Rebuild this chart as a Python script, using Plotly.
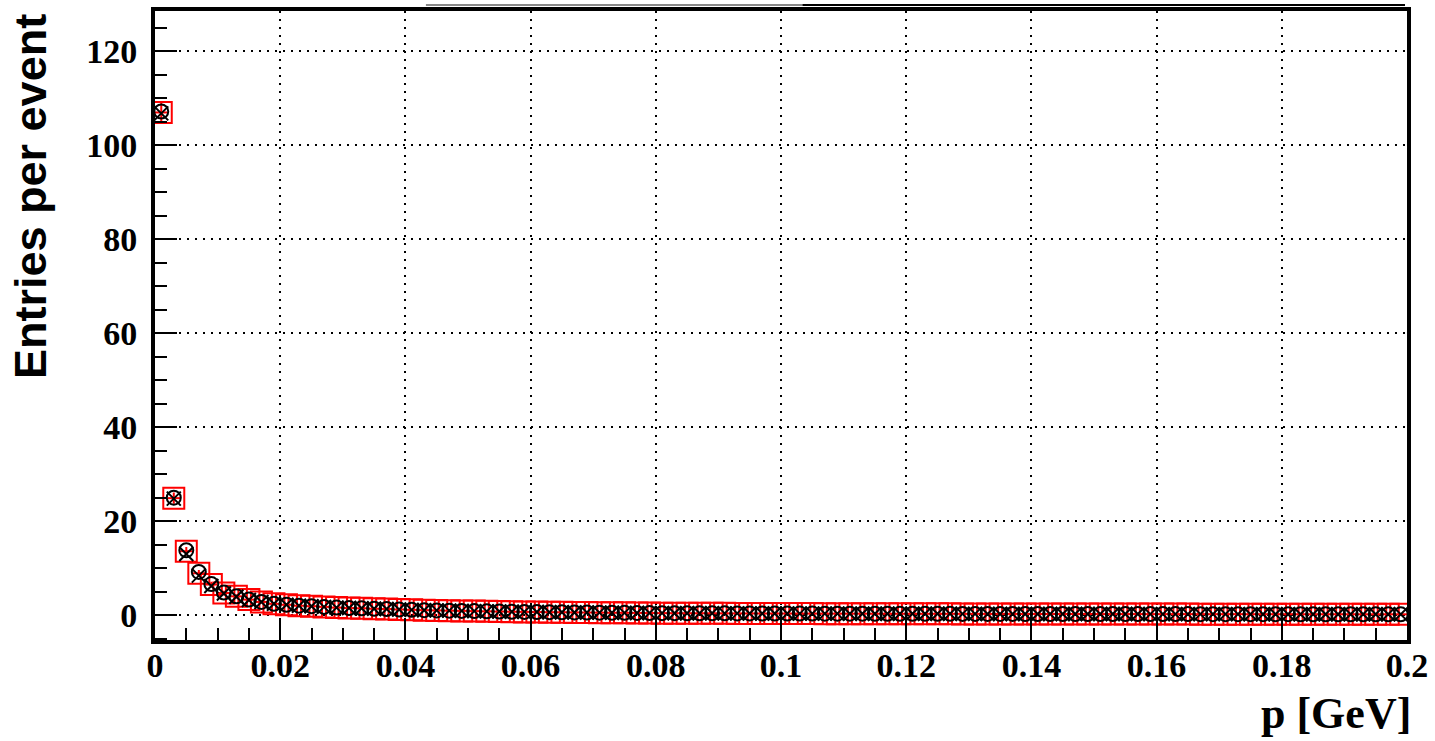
import plotly.graph_objects as go

# bin centres (bin width 0.002 GeV)
p_centers = [0.001 + 0.002 * i for i in range(100)]

# series
vals_square = [107, 24.9, 13.6, 8.9, 6.5, 4.7, 4.0, 3.3, 2.8, 2.4,
               2.2, 2.0, 1.9, 1.75, 1.6, 1.5, 1.45, 1.35, 1.3, 1.2,
               1.12, 1.05, 1.0, 0.95, 0.9, 0.85, 0.8, 0.76, 0.72, 0.68,
               0.65, 0.62, 0.6, 0.57, 0.55, 0.52, 0.5, 0.48, 0.46, 0.44,
               0.42, 0.41, 0.4, 0.39, 0.38, 0.37, 0.36, 0.35, 0.34, 0.34,
               0.33, 0.32, 0.32, 0.31, 0.31, 0.30, 0.30, 0.29, 0.29, 0.28,
               0.28, 0.27, 0.27, 0.27, 0.26, 0.26, 0.25, 0.25, 0.25, 0.24,
               0.24, 0.24, 0.23, 0.23, 0.23, 0.22, 0.22, 0.22, 0.22, 0.21,
               0.21, 0.21, 0.21, 0.20, 0.20, 0.20, 0.20, 0.19, 0.19, 0.19,
               0.19, 0.18, 0.18, 0.18, 0.18, 0.18, 0.17, 0.17, 0.17, 0.17]
err_square = [2.4, 1.2, 0.9, 0.7, 0.6, 0.5, 0.45, 0.4, 0.35, 0.3] + [0.1] * 90

vals_circle = [107.2, 25.0, 13.8, 9.2, 6.6, 4.8, 4.0, 3.3, 2.8, 2.4,
               2.2, 2.0, 1.9, 1.75, 1.6, 1.5, 1.45, 1.35, 1.3, 1.2,
               1.12, 1.05, 1.0, 0.95, 0.9, 0.85, 0.8, 0.76, 0.72, 0.68,
               0.65, 0.62, 0.6, 0.57, 0.55, 0.52, 0.5, 0.48, 0.46, 0.44,
               0.42, 0.41, 0.4, 0.39, 0.38, 0.37, 0.36, 0.35, 0.34, 0.34,
               0.33, 0.32, 0.32, 0.31, 0.31, 0.30, 0.30, 0.29, 0.29, 0.28,
               0.28, 0.27, 0.27, 0.27, 0.26, 0.26, 0.25, 0.25, 0.25, 0.24,
               0.24, 0.24, 0.23, 0.23, 0.23, 0.22, 0.22, 0.22, 0.22, 0.21,
               0.21, 0.21, 0.21, 0.20, 0.20, 0.20, 0.20, 0.19, 0.19, 0.19,
               0.19, 0.18, 0.18, 0.18, 0.18, 0.18, 0.17, 0.17, 0.17, 0.17]

vals_cross = [106.8, 24.8, 13.0, 8.4, 6.2, 4.6, 3.9, 3.2, 2.8, 2.4,
              2.2, 2.0, 1.9, 1.75, 1.6, 1.5, 1.45, 1.35, 1.3, 1.2,
              1.12, 1.05, 1.0, 0.95, 0.9, 0.85, 0.8, 0.76, 0.72, 0.68,
              0.65, 0.62, 0.6, 0.57, 0.55, 0.52, 0.5, 0.48, 0.46, 0.44,
              0.42, 0.41, 0.4, 0.39, 0.38, 0.37, 0.36, 0.35, 0.34, 0.34,
              0.33, 0.32, 0.32, 0.31, 0.31, 0.30, 0.30, 0.29, 0.29, 0.28,
              0.28, 0.27, 0.27, 0.27, 0.26, 0.26, 0.25, 0.25, 0.25, 0.24,
              0.24, 0.24, 0.23, 0.23, 0.23, 0.22, 0.22, 0.22, 0.22, 0.21,
              0.21, 0.21, 0.21, 0.20, 0.20, 0.20, 0.20, 0.19, 0.19, 0.19,
              0.19, 0.18, 0.18, 0.18, 0.18, 0.18, 0.17, 0.17, 0.17, 0.17]

x_tickvals = [0, 0.02, 0.04, 0.06, 0.08, 0.1, 0.12, 0.14, 0.16, 0.18, 0.2]
x_ticktext = ["0", "0.02", "0.04", "0.06", "0.08", "0.1", "0.12", "0.14", "0.16", "0.18", "0.2"]
y_tickvals = [0, 20, 40, 60, 80, 100, 120]
y_ticktext = ["0", "20", "40", "60", "80", "100", "120"]

fig = go.Figure()
fig.add_trace(go.Scatter(
    x=p_centers, y=vals_square, mode="markers",
    marker=dict(symbol="square-open", size=21, color="red", line=dict(color="red", width=2)),
    error_x=dict(type="constant", value=0.001, color="red", thickness=2, width=0),
    error_y=dict(type="data", array=err_square, color="red", thickness=2, width=0),
))
fig.add_trace(go.Scatter(
    x=p_centers, y=vals_circle, mode="markers",
    marker=dict(symbol="circle-open", size=14, color="black", line=dict(color="black", width=2)),
))
fig.add_trace(go.Scatter(
    x=p_centers, y=vals_cross, mode="markers",
    marker=dict(symbol="x-thin-open", size=14, color="black", line=dict(color="black", width=2)),
))

tick_font = dict(family="Liberation Serif", size=34, color="black", weight="bold")

fig.update_xaxes(
    range=[0, 0.2], tickvals=x_tickvals, ticktext=x_ticktext, tickfont=tick_font,
    showline=True, linecolor="black", linewidth=4, mirror=True,
    ticks="inside", ticklen=22, tickwidth=2, tickcolor="black",
    minor=dict(dtick=0.005, ticks="inside", ticklen=12, tickwidth=2, tickcolor="black", showgrid=False),
    showgrid=True, gridcolor="black", gridwidth=2, griddash="2px,6px",
    zeroline=False, ticklabelstandoff=-8,
)
fig.update_yaxes(
    range=[-5.3, 128.6], tickvals=y_tickvals, ticktext=y_ticktext, tickfont=tick_font,
    showline=True, linecolor="black", linewidth=4, mirror=True,
    ticks="inside", ticklen=22, tickwidth=2, tickcolor="black",
    minor=dict(dtick=5, ticks="inside", ticklen=12, tickwidth=2, tickcolor="black", showgrid=False),
    showgrid=True, gridcolor="black", gridwidth=2, griddash="2px,6px",
    zeroline=False, ticklabelstandoff=7,
)

fig.update_layout(
    width=1435, height=741,
    margin=dict(l=155, r=23, t=7, b=101),
    plot_bgcolor="white", paper_bgcolor="white",
    showlegend=False,
    annotations=[
        dict(text="Entries per event", xref="paper", yref="paper",
             x=(30 - 155) / 1257, y=(640 - 8) / 633, xanchor="center", yanchor="top",
             textangle=-90, showarrow=False,
             font=dict(family="Liberation Sans", size=45, color="black", weight="bold")),
        dict(text="p [GeV]", xref="paper", yref="paper",
             x=(1418 - 155) / 1257, y=(640 - 714) / 633, xanchor="right", yanchor="middle",
             showarrow=False,
             font=dict(family="Liberation Serif", size=44, color="black", weight="bold")),
    ],
    shapes=[
        dict(type="line", xref="paper", yref="paper",
             x0=(427 - 155) / 1257, x1=(805 - 155) / 1257,
             y0=(640 - 1) / 633, y1=(640 - 1) / 633,
             line=dict(color="#888888", width=2)),
        dict(type="line", xref="paper", yref="paper",
             x0=(805 - 155) / 1257, x1=(1410 - 155) / 1257,
             y0=(640 - 1) / 633, y1=(640 - 1) / 633,
             line=dict(color="black", width=2)),
    ],
)

fig.write_html("out.html", config={"displayModeBar": False},
               post_script="document.body.style.margin='0';")
